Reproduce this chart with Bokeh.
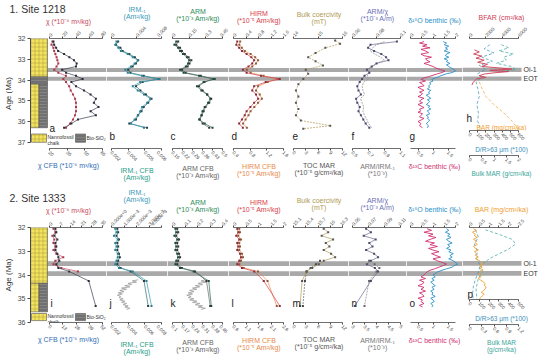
import math
from bokeh.plotting import figure
from bokeh.models import Range1d, LinearAxis, FixedTicker, BoxAnnotation, Label
from bokeh.layouts import row, column
from bokeh.embed import file_html
from bokeh.resources import INLINE

FONT = "Liberation Sans"
INK = "#4a4a4a"
BAND = "#a9a9a9"
YEL = "#f3e45f"
SIO = "#707070"

# ---------------- event bands (Ma) ----------------
oi1_band = [33.42, 33.62]
eot_band = [33.84, 34.04]

# ================= Site 1218 =================
age_ticks1 = [32, 33, 34, 35, 36, 37]
chalk1 = [32.0, 33.85]
sio1 = [33.85, 34.2]
mixed1 = [34.2, 36.3]

age1 = [32.15, 32.3, 32.45, 32.6, 32.75, 32.9, 33.05, 33.2, 33.35, 33.5, 33.65, 33.8, 33.95,
        34.1, 34.3, 34.5, 34.7, 34.9, 35.1, 35.3, 35.5, 35.7, 35.9, 36.1, 36.3]
chi1 = [6, 7, 10, 13, 22, 30, 37, 41, 40, 19, 25, 40, 50, 33, 40, 52, 62, 70, 67, 74, 62, 70, 43, 33, 22]
chi_cfb1 = [22.5, 21.7, 23.3, 24, 25, 26, 26.7, 27.5, 26, 24, 27.5, 34, 31.7, 34, 36.7, 38, 40, 41.7,
            42.5, 42.5, 42.5, 41.7, 40, 37.5, 34]
irm1 = [.0008, .0006, .0011, .0015, .0026, .0034, .0042, .0037, .0031, .0022, .0026, .0049, .0077,
        .0046, .0034, .0042, .0052, .0062, .0057, .0049, .0046, .0042, .0037, .0031, .0052]
irm_cfb1 = [.0026, .0024, .0028, .0030, .0036, .0041, .0044, .0042, .0039, .0035, .0037, .0049, .0062,
            .0048, .0042, .0046, .0051, .0056, .0053, .0049, .0047, .0044, .0042, .0036, .0052]
arm1 = [.034, .017, .05, .068, .094, .13, .15, .14, .12, .068, .10, .24, .38, .28, .22, .26, .31, .34,
        .32, .29, .27, .26, .24, .29, .36]
arm_cfb1 = [.190, .176, .203, .216, .236, .262, .282, .269, .256, .216, .242, .348, .434, .374, .335,
            .361, .394, .421, .407, .381, .368, .355, .341, .361, .407]
hirm1 = [0.12, 0.09, 0.18, 0.27, 0.42, 0.57, 0.66, 0.60, 0.48, 0.30, 0.42, 0.88, 1.48, 1.03, 0.66,
         0.60, 0.72, 0.79, 0.66, 0.54, 0.42, 0.36, 0.27, 0.18, 0.30]
hirm_cfb1 = [0.56, 0.54, 0.60, 0.67, 0.81, 0.92, 0.99, 0.94, 0.85, 0.72, 0.81, 1.12, 1.46, 1.22, 0.99,
             0.94, 1.03, 1.08, 0.99, 0.90, 0.81, 0.76, 0.69, 0.63, 0.72]
age_e1 = [32.1, 32.25, 32.45, 32.7, 32.9, 33.1, 33.3, 33.5, 33.7, 33.95, 34.2, 34.5, 34.8, 35.1,
          35.4, 35.7, 35.95, 36.2, 36.35]
coer1 = [15.7, 15.9, 15.3, 14.9, 14.6, 14.9, 15.2, 14.5, 14.6, 14.4, 14.2, 14.1, 14.2, 14.1, 14.2,
         14.1, 14.3, 15.5, 14.4]
armchi1 = [0.097, 0.075, 0.073, 0.078, 0.084, 0.088, 0.090, 0.080, 0.076, 0.072, 0.074, 0.070, 0.068,
           0.066, 0.064, 0.065, 0.067, 0.063, 0.064, 0.066, 0.065, 0.067, 0.069, 0.071, 0.074]
armirm1 = [0.9, 0.8, 0.75, 0.72, 0.78, 0.85, 0.9, 0.8, 0.76, 0.7, 0.72, 0.68, 0.7, 0.64, 0.62, 0.63,
           0.65, 0.6, 0.62, 0.64, 0.63, 0.65, 0.68, 0.7, 0.74]
age_iso1 = [32.15, 32.22, 32.3, 32.37, 32.45, 32.52, 32.6, 32.68, 32.75, 32.83, 32.9, 32.98, 33.05,
            33.12, 33.2, 33.27, 33.35, 33.42, 33.5, 33.57, 33.64, 33.7, 33.77, 33.84, 33.9, 33.97,
            34.05, 34.12, 34.2, 34.28, 34.35, 34.43, 34.5, 34.58, 34.65, 34.73, 34.8, 34.88, 34.95,
            35.03, 35.1, 35.18, 35.25, 35.33, 35.4, 35.48, 35.55, 35.63, 35.7, 35.78, 35.85, 35.93,
            36.0, 36.1, 36.2, 36.3]
d18o1 = [1.45, 1.6, 1.5, 1.7, 1.55, 1.65, 1.5, 1.75, 1.6, 1.55, 1.7, 1.5, 1.65, 1.6, 1.75, 1.6, 1.7,
         1.8, 1.95, 2.0, 1.85, 1.6, 1.4, 1.25,
         1.1, 0.95, 1.0, 0.85, 0.9, 0.8, 0.85, 0.75, 0.9, 0.8, 0.85, 0.7, 0.8, 0.9, 0.75, 0.85, 0.8,
         0.7, 0.85, 0.8, 0.9, 0.75, 0.8, 0.85, 0.7, 0.8, 0.75, 0.85, 0.8, 0.7, 0.8, 0.75]
d13c1 = [0.7, 0.55, 0.8, 0.65, 0.9, 0.6, 0.75, 0.85, 0.6, 0.7, 0.95, 0.75, 0.8, 0.9, 0.7, 0.85, 1.0,
         1.1, 1.25, 1.4, 1.3, 1.15, 1.0, 0.85,
         0.7, 0.6, 0.75, 0.55, 0.65, 0.7, 0.5, 0.6, 0.7, 0.55, 0.65, 0.6, 0.5, 0.7, 0.6, 0.55, 0.65,
         0.5, 0.6, 0.7, 0.55, 0.6, 0.5, 0.65, 0.6, 0.55, 0.7, 0.6, 0.5, 0.6, 0.55, 0.65]
bfar_age1 = [32.55, 32.65, 32.75, 32.85, 32.95, 33.05, 33.15, 33.25, 33.35, 33.42, 33.48, 33.54,
             33.6, 33.66, 33.72, 33.8, 33.88, 33.95, 34.05, 34.15, 34.25]
bfar1 = [600, 1200, 500, 1500, 800, 1800, 1000, 2200, 1500, 3500, 5200, 2500, 4800, 3000, 1800,
         1200, 2000, 900, 600, 400, 300]
dr_age1 = [32.3, 32.5, 32.7, 32.9, 33.1, 33.3, 33.5, 33.7, 33.9, 34.1, 34.4, 34.8, 35.2, 35.6, 36.0, 36.3]
dr1 = [250, 180, 300, 150, 280, 120, 200, 100, 150, 80, 100, 120, 90, 110, 100, 130]
mar_age1 = [32.3, 32.45, 32.6, 32.75, 32.9, 33.05, 33.2, 33.35, 33.5, 33.6]
mar1 = [1.3, 1.6, 1.2, 1.8, 1.4, 1.5, 1.1, 1.7, 1.9, 1.2]
bar_age1 = [34.1, 34.4, 34.8, 35.2, 35.6, 36.0, 36.4, 36.7, 37.0, 37.2]
bar1 = [120, 150, 200, 300, 420, 520, 600, 560, 450, 350]

# ================= Site 1333 =================
age_ticks2 = [32, 33, 34, 35, 36]
chalk2 = [32.0, 34.35]
mixed2 = [34.35, 35.55]

age2 = [32.05, 32.2, 32.35, 32.5, 32.65, 32.8, 32.95, 33.1, 33.25, 33.4, 33.55, 33.7, 33.85, 34.25, 35.3]
chi2 = [2.6, 3.9, 1.9, 3.2, 2.6, 3.9, 2.6, 4.5, 9.1, 3.9, 2.6, 7.8, 18.8]
chi_cfb2 = [5.8, 6.7, 4.8, 7.7, 5.8, 6.7, 5.8, 7.7, 8.7, 9.6, 6.7, 8.7, 19.3, 38.5, 45.3]
irm2 = [.0003, .0004, .0002, .0005, .0003, .0004, .0003, .0005, .0005, .0004, .0003, .0006, .0017, .0028, .0032]
irm_cfb2 = [.0027, .0028, .0026, .0029, .0027, .0028, .0027, .0029, .0030, .0028, .0027, .0031, .0043, .0059, .0064]
arm2 = [.023, .03, .015, .038, .023, .03, .023, .038, .045, .03, .023, .06, .17, .29, .31]
arm_cfb2 = [.133, .140, .126, .146, .133, .140, .133, .146, .153, .140, .133, .166, .258, .338, .364]
hirm2 = [.15, .19, .11, .23, .15, .19, .15, .26, .30, .23, .15, .34, .83, 1.21, 1.85]
hirm_cfb2 = [.83, .86, .79, .90, .83, .86, .83, .94, .98, .90, .83, 1.01, 1.58, 1.96, 2.33]
coer2 = [15.84, 15.95, 15.79, 16.07, 15.89, 15.98, 15.84, 16.02, 16.12, 15.84, 15.72, 15.56, 15.42, 15.31, 15.26]
toc_age2 = [33.4, 33.55, 33.7, 33.85, 34.25, 35.3]
toc2 = [6.5, 5.5, 4.2, 3.2, 2.8, 2.3]
armchi2 = [.067, .073, .064, .079, .071, .075, .067, .077, .082, .073, .068, .078, .082, .073, .053]
armirm_age2 = [33.4, 33.55, 33.7, 33.85, 34.25, 35.3]
armirm2 = [3.69, 3.92, 4.12, 4.0, 3.69, 3.5]
age_hr2 = [34.2, 34.25, 34.3, 34.35, 34.4, 34.45, 34.5, 34.55, 34.6, 34.65, 34.7, 34.75, 34.8, 34.85,
           34.9, 34.95, 35.0, 35.05, 35.1, 35.15, 35.2, 35.25, 35.3, 35.35, 35.4, 35.45]
irm_hr2 = [.0052, .0045, .0050, .0040, .0044, .0036, .0042, .0032, .0038, .0030, .0035, .0028, .0033,
           .0027, .0031, .0029, .0034, .0030, .0036, .0032, .0038, .0034, .0040, .0036, .0042, .0038]
arm_hr2 = [.33, .30, .34, .28, .31, .26, .29, .24, .27, .22, .25, .21, .24, .20, .23, .21, .25, .22,
           .27, .24, .29, .26, .31, .28, .33, .30]
age_iso2 = [32.05, 32.12, 32.2, 32.28, 32.35, 32.42, 32.5, 32.58, 32.65, 32.72, 32.8, 32.88, 32.95,
            33.02, 33.1, 33.18, 33.25, 33.32, 33.4, 33.47, 33.54, 33.6, 33.67, 33.74, 33.8, 33.87,
            33.94, 34.0, 34.08, 34.15, 34.22, 34.3, 34.38, 34.45, 34.52, 34.6, 34.68, 34.75, 34.82,
            34.9, 34.98, 35.05, 35.12, 35.2, 35.28, 35.35]
d18o2 = [1.6, 1.7, 1.55, 1.75, 1.65, 1.8, 1.6, 1.7, 1.85, 1.65, 1.75, 1.6, 1.8, 1.7, 1.9, 1.75, 1.85,
         1.7, 1.9, 2.0, 2.1, 1.95, 1.85, 1.6, 1.4, 1.2, 1.1,
         1.0, 1.1, 0.95, 1.05, 0.9, 1.0, 1.1, 0.95, 1.05, 0.9, 1.0, 0.95, 1.1, 0.9, 1.0, 1.05, 0.9, 1.0, 0.95]
d13c2 = [0.8, 0.95, 0.7, 1.0, 0.85, 1.1, 0.9, 0.75, 1.05, 0.9, 1.15, 0.85, 1.0, 1.2, 0.95, 1.1, 1.25,
         1.0, 1.15, 1.3, 1.45, 1.35, 1.2, 1.05, 0.9, 0.8, 0.75,
         0.7, 0.6, 0.75, 0.55, 0.7, 0.65, 0.5, 0.7, 0.6, 0.75, 0.55, 0.65, 0.7, 0.5, 0.65, 0.6, 0.7, 0.55, 0.65]
bar2 = [0.2, 0.35, 0.15, 0.3, 0.25, 0.4, 0.2, 0.35, 0.3, 0.4, 0.2, 0.3, 0.45, 0.25, 0.35, 0.3, 0.45,
        0.3, 0.5, 0.6, 0.7, 0.5, 0.65, 0.55, 0.7, 0.6, 0.5,
        0.5, 0.6, 0.45, 0.55, 0.7, 0.8, 0.75, 0.85, 0.8, 0.7, 0.6, 0.75, 0.65, 0.55, 0.5, 0.55, 0.45, 0.5, 0.4]
dr_age2 = [32.1, 32.4, 32.7, 33.0, 33.3, 33.6, 33.9, 34.2, 34.5, 34.8, 35.1]
dr2 = [60, 90, 50, 80, 70, 110, 90, 60, 40, 30, 40]
mar_age2 = [32.1, 32.3, 32.5, 32.7, 32.9, 33.1, 33.3, 33.5, 33.7, 33.9, 34.2, 34.6, 35.0, 35.2]
mar2 = [0.39, 0.74, 1.04, 1.13, 0.97, 0.74, 0.51, 0.35, 0.25, 0.30, 0.21, 0.16, 0.18, 0.16]

# ---------------- colours ----------------
C_CHI, C_CHICFB = "#c94a5e", "#2f6db5"
C_IRM, C_IRMCFB = "#3a9ab8", "#1f9e89"
C_ARM, C_ARMCFB = "#2e8b57", "#666666"
C_HIRM, C_HIRMCFB = "#d8404a", "#e8894a"
C_COER, C_TOC = "#b09a55", "#555555"
C_ARMCHI, C_ARMIRM = "#6b6fb5", "#777777"
C_D18O, C_D13C = "#2a90c8", "#d03070"
C_BFAR, C_BAR, C_DR, C_MAR = "#d04055", "#f0a030", "#3a8fb8", "#3aa59a"


def mk_range(lo, hi, L, R, W):
    k = (hi - lo) / (R - L)
    return Range1d(lo - L * k, hi + (W - R) * k)


def fmt_axis(ax, lo, hi, ticks, label, color, orient, lsize="7px"):
    ax.bounds = (lo, hi)
    ax.ticker = FixedTicker(ticks=ticks)
    ax.axis_label = label
    ax.axis_label_text_color = color
    ax.axis_label_text_font = FONT
    ax.axis_label_text_font_size = lsize
    ax.axis_label_text_font_style = "normal"
    ax.axis_label_text_line_height = 1.0
    ax.axis_label_standoff = 1
    ax.major_label_text_font = FONT
    ax.major_label_text_font_size = "4.8px"
    ax.major_label_text_color = INK
    ax.major_label_orientation = orient
    ax.major_label_standoff = 1
    ax.major_tick_out = 2
    ax.major_tick_in = 0
    ax.minor_tick_line_color = None
    ax.axis_line_color = INK
    ax.axis_line_width = 0.8
    ax.major_tick_line_color = INK


def panel(W, H, yr, L, R, top, bots, tb, bb, lb=0, rb=0, first=None, band_right=None, bsize="7px"):
    p = figure(frame_width=W, frame_height=H, x_range=mk_range(top[0], top[1], L, R, W), y_range=yr,
               x_axis_location="above", y_axis_location=("left" if first else None),
               output_backend="svg", toolbar_location=None,
               min_border_top=tb, min_border_bottom=bb, min_border_left=lb, min_border_right=rb)
    p.outline_line_color = None
    p.border_fill_color = None
    p.background_fill_color = None
    p.grid.visible = False
    fmt_axis(p.xaxis[0], top[0], top[1], top[2], top[3], top[4], math.pi / 4)
    extra = {"px": Range1d(0, W)}
    for i, b in enumerate(bots):
        extra["b%d" % i] = mk_range(b[0], b[1], L, R, W)
    p.extra_x_ranges = extra
    for i, b in enumerate(bots):
        ax = LinearAxis(x_range_name="b%d" % i)
        fmt_axis(ax, b[0], b[1], b[2], b[3], b[4], -math.pi / 4, lsize=bsize)
        p.add_layout(ax, "below")
    for band in (oi1_band, eot_band):
        kw = dict(top=band[0], bottom=band[1], fill_color=BAND, fill_alpha=1.0, line_color=None,
                  level="underlay")
        if band_right is not None:
            kw.update(right=band_right, x_range_name="px")
        p.add_layout(BoxAnnotation(**kw))
    if first:
        ya = p.yaxis[0]
        ya.bounds = (first[0][0], first[0][-1])
        ya.ticker = FixedTicker(ticks=first[0])
        ya.axis_label = "Age (Ma)"
        ya.axis_label_text_font = FONT
        ya.axis_label_text_font_size = "8px"
        ya.axis_label_text_font_style = "normal"
        ya.axis_label_text_color = "#333333"
        ya.axis_label_standoff = 2
        ya.major_label_text_font = FONT
        ya.major_label_text_font_size = "7px"
        ya.major_label_text_color = INK
        ya.major_label_standoff = 2
        ya.major_tick_out = 3
        ya.major_tick_in = 0
        ya.minor_tick_line_color = None
        ya.axis_line_color = INK
        ya.major_tick_line_color = INK
        p.title.text = first[1]
        p.title.text_font = FONT
        p.title.text_font_size = "10.5px"
        p.title.text_font_style = "normal"
        p.title.text_color = "#333333"
        p.title.align = "left"
        p.title.offset = -lb + 1
        p.title.standoff = 0
    return p


def trace(p, xs, ys, color, rng="default", dash="solid", lw=0.7, dot=None, size=2.0):
    p.line(xs, ys, line_color=color, line_width=lw, line_dash=dash, x_range_name=rng)
    if dot:
        p.scatter(xs, ys, marker="square", size=size, fill_color=dot, line_color=None, x_range_name=rng)


def letter(p, xpx, y, t):
    p.add_layout(Label(x=xpx, y=y, x_range_name="px", text=t, text_font=FONT, text_font_size="10px",
                       text_color="#222222", text_baseline="middle"))


def chalk_box(p, l, r, t, b):
    p.quad(left=l, right=r, top=t, bottom=b, fill_color=YEL, line_color="#555555",
           line_width=0.6, hatch_pattern="+", hatch_color="#a8953a", hatch_scale=4, hatch_weight=0.5,
           x_range_name="px")


def sio_box(p, l, r, t, b):
    p.quad(left=l, right=r, top=t, bottom=b, fill_color=SIO, line_color="#555555",
           line_width=0.6, hatch_pattern="-", hatch_color="#9a9a9a", hatch_scale=3,
           hatch_weight=0.5, x_range_name="px")


def litho(p, chalk, mixed, sio, leg_y):
    chalk_box(p, 0, 17, chalk[0], chalk[1])
    if sio:
        sio_box(p, 0, 17, sio[0], sio[1])
    chalk_box(p, 0, 8.5, mixed[0], mixed[1])
    sio_box(p, 8.5, 17, mixed[0], mixed[1])
    chalk_box(p, 1, 16, leg_y[0], leg_y[1])
    sio_box(p, 45, 55, leg_y[0], leg_y[1])
    p.add_layout(Label(x=17, y=leg_y[0], x_range_name="px", text="Nannofossil\nchalk", text_font=FONT,
                       text_font_size="5px", text_color="#333333", text_baseline="top",
                       text_line_height=1.0))
    p.add_layout(Label(x=56, y=(leg_y[0] + leg_y[1]) / 2, x_range_name="px", text="Bio-SiO₂",
                       text_font=FONT, text_font_size="5px", text_color="#333333",
                       text_baseline="middle"))


def event_labels(p, xpx):
    for t, band in (("Oi-1", oi1_band), ("EOT", eot_band)):
        p.add_layout(Label(x=xpx, y=(band[0] + band[1]) / 2, x_range_name="px", text=t, text_font=FONT,
                           text_font_size="7px", text_color="#333333", text_baseline="middle"))


H1, H2 = 110, 95
TB = 30
BB1, BB2 = 38, 44
LB = 22
WID = [76, 61, 61, 61, 59, 58, 56, 78]
LR = [(19, 72), (5, 55), (5, 55), (5, 55), (4, 53), (4, 52), (4, 49), (7, 56)]
BAND_R = 59
EV_X = 61

# ================= Row 1 =================
Y1_END = 37.3
yr1 = Range1d(Y1_END, 32.0)
ly1 = 36.72
r1 = []
p = panel(WID[0], H1, yr1, *LR[0], (0, 80, [0, 20, 40, 60, 80], "χ (*10⁻⁶ m³/kg)", C_CHI),
          [(20, 65, [20, 35, 50, 65], "χ CFB (*10⁻⁶ m³/kg)", C_CHICFB)], TB, BB1, lb=LB,
          first=(age_ticks1, "1. Site 1218"))
litho(p, chalk1, mixed1, sio1, (36.6, 37.0))
trace(p, chi_cfb1, age1, C_CHI, rng="b0", dot="#a83a4a")
trace(p, chi1, age1, "#3b4150", dot="#2b2b3a")
letter(p, 19, 36.35, "a")
r1.append(p)

p = panel(WID[1], H1, yr1, *LR[1], (0, 0.008, [0, 0.004, 0.008], "IRM₋₁\n(Am²/kg)", C_IRM),
          [(0.002, 0.0065, [0.002, 0.0035, 0.005, 0.0065], "IRM₋₁ CFB\n(Am²/kg)", C_IRMCFB)], TB, BB1)
trace(p, irm_cfb1, age1, "#2f6f6a", rng="b0", dot="#2b3b3a")
trace(p, irm1, age1, C_IRM, dot="#2a7f95")
letter(p, 3, ly1, "b")
r1.append(p)

p = panel(WID[2], H1, yr1, *LR[2], (0, 0.45, [0, 0.15, 0.30, 0.45], "ARM\n(*10⁻³ Am²/kg)", C_ARM),
          [(0.15, 0.50, [0.15, 0.22, 0.29, 0.36, 0.43, 0.50], "ARM CFB\n(*10⁻³ Am²/kg)", C_ARMCFB)],
          TB, BB1)
trace(p, arm_cfb1, age1, "#666666", rng="b0", dot="#333333")
trace(p, arm1, age1, "#2e6b50", dot="#1f4a38")
letter(p, 3, ly1, "c")
r1.append(p)

p = panel(WID[3], H1, yr1, *LR[3], (0, 1.6, [0, 0.4, 0.8, 1.2, 1.6], "HIRM\n(*10⁻⁵ Am²/kg)", C_HIRM),
          [(0.4, 1.6, [0.4, 0.8, 1.2, 1.6], "HIRM CFB\n(*10⁻⁵ Am²/kg)", C_HIRMCFB)], TB, BB1)
trace(p, hirm_cfb1, age1, C_HIRMCFB, rng="b0", dot="#8a5a3a")
trace(p, hirm1, age1, C_HIRM, dot="#8a2a3a")
letter(p, 3, ly1, "d")
r1.append(p)

p = panel(WID[4], H1, yr1, *LR[4], (14, 16, [14, 15, 16], "Bulk coercivity\n(mT)", C_COER),
          [(0, 12, [0, 3, 6, 9, 12], "TOC MAR\n(*10⁻⁵ g/cm²/ka)", C_TOC)], TB, BB1)
trace(p, coer1, age_e1, C_COER, dash="2 1", dot="#555555")
letter(p, 3, ly1, "e")
r1.append(p)

p = panel(WID[5], H1, yr1, *LR[5], (0.06, 0.10, [0.06, 0.08, 0.10], "ARM/χ\n(*10⁻³ A/m)", C_ARMCHI),
          [(0.5, 1.1, [0.5, 0.7, 0.9, 1.1], "ARM/IRM₋₁\n(*10⁻³)", C_ARMIRM)], TB, BB1)
trace(p, armirm1, age1, "#888888", rng="b0", dash="2 1")
trace(p, armchi1, age1, "#6a6a90", dot="#4a4a6a")
letter(p, 3, ly1, "f")
r1.append(p)

p = panel(WID[6], H1, yr1, *LR[6], (0, 2, [0, 0.5, 1, 1.5, 2], "δ¹⁸O benthic (‰)", C_D18O),
          [(0.25, 1.75, [0.5, 1.0, 1.5], "δ¹³C benthic (‰)", C_D13C)], TB, BB1)
trace(p, d13c1, age_iso1, C_D13C, rng="b0", lw=0.9)
trace(p, d18o1, age_iso1, C_D18O, lw=0.9)
letter(p, 3, ly1, "g")
r1.append(p)

# panel h: frame stops at 36.45 Ma, its two extra axes use the space below
H_END = 36.45
Hh = round(H1 * (H_END - 32.0) / (Y1_END - 32.0))
p = panel(WID[7], Hh, Range1d(H_END, 32.0), *LR[7],
          (0, 6000, [0, 2000, 4000, 6000], "BFAR (cm²/ka)", C_BFAR),
          [(0, 600, [0, 100, 200, 300, 400, 500, 600], "D/R>63 μm (*100)", C_DR),
           (0, 2, [0, 0.5, 1, 1.5, 2], "Bulk MAR (g/cm²/ka)", C_MAR)], TB, BB1 + (H1 - Hh),
          band_right=BAND_R, bsize="6.5px")
trace(p, mar1, mar_age1, C_MAR, rng="b1", dash="3 2")
trace(p, dr1, dr_age1, C_DR, rng="b0", dash="3 2")
trace(p, bar1, bar_age1, C_BAR, rng="b0", dash="3 2")
trace(p, bfar1, bfar_age1, C_BFAR, lw=0.9)
letter(p, 4, 35.85, "h")
p.add_layout(Label(x=14, y=36.3, x_range_name="px", text="BAR (mg/cm²/ka)", text_font=FONT,
                   text_font_size="6.5px", text_color=C_BAR, text_baseline="middle"))
event_labels(p, EV_X)
r1.append(p)

# ================= Row 2 =================
yr2 = Range1d(36.0, 32.0)
ly2 = 35.2
r2 = []
p = panel(WID[0], H2, yr2, *LR[0], (0, 35, [0, 7, 14, 21, 28, 35], "χ (*10⁻⁶ m³/kg)", C_CHI),
          [(0, 52, [0, 13, 26, 39, 52], "χ CFB (*10⁻⁶ m³/kg)", C_CHICFB)], TB, BB2, lb=LB,
          first=(age_ticks2, "2. Site 1333"))
litho(p, chalk2, mixed2, None, (35.62, 35.92))
trace(p, chi2, age2[:13], C_CHI, dot="#a83a4a")
trace(p, chi_cfb2, age2, "#3b4150", rng="b0", dot="#2b2b3a")
letter(p, 20, ly2, "i")
r2.append(p)

p = panel(WID[1], H2, yr2, *LR[1], (0, 0.004, [0, 0.001, 0.002, 0.003, 0.004], "IRM₋₁\n(Am²/kg)", C_IRM),
          [(0.002, 0.008, [0.002, 0.004, 0.006, 0.008], "IRM₋₁ CFB\n(Am²/kg)", C_IRMCFB)], TB, BB2)
trace(p, irm_hr2, age_hr2, "#999999", rng="b0", lw=0.8)
trace(p, irm_cfb2, age2, "#2f6f6a", rng="b0", dot="#2b3b3a")
trace(p, irm2, age2, C_IRM, dot="#2a7f95")
letter(p, 3, ly2, "j")
r2.append(p)

p = panel(WID[2], H2, yr2, *LR[2], (0, 0.4, [0, 0.1, 0.2, 0.3, 0.4], "ARM\n(*10⁻³ Am²/kg)", C_ARM),
          [(0.10, 0.45, [0.10, 0.17, 0.24, 0.31, 0.38, 0.45], "ARM CFB\n(*10⁻³ Am²/kg)", C_ARMCFB)],
          TB, BB2)
trace(p, arm_hr2, age_hr2, "#999999", rng="b0", lw=0.8)
trace(p, arm_cfb2, age2, "#666666", rng="b0", dot="#333333")
trace(p, arm2, age2, "#2e6b50", dot="#1f4a38")
letter(p, 3, ly2, "k")
r2.append(p)

p = panel(WID[3], H2, yr2, *LR[3], (0, 2, [0, 0.5, 1, 1.5, 2], "HIRM\n(*10⁻⁵ Am²/kg)", C_HIRM),
          [(0.6, 2.6, [0.6, 1.1, 1.6, 2.1, 2.6], "HIRM CFB\n(*10⁻⁵ Am²/kg)", C_HIRMCFB)], TB, BB2)
trace(p, hirm_cfb2, age2, C_HIRMCFB, rng="b0", dot="#8a5a3a")
trace(p, hirm2, age2, C_HIRM, dot="#8a2a3a")
letter(p, 3, ly2, "l")
r2.append(p)

p = panel(WID[4], H2, yr2, *LR[4], (15.1, 16.3, [15.1, 15.4, 15.7, 16.0, 16.3], "Bulk coercivity\n(mT)", C_COER),
          [(0, 12, [0, 3, 6, 9, 12], "TOC MAR\n(*10⁻⁵ g/cm²/ka)", C_TOC)], TB, BB2)
trace(p, toc2, toc_age2, "#666666", rng="b0", dash="2 1", dot="#444444")
trace(p, coer2, age2, C_COER, dot="#555555")
letter(p, 3, ly2, "m")
r2.append(p)

p = panel(WID[5], H2, yr2, *LR[5], (0.05, 0.11, [0.05, 0.07, 0.09, 0.11], "ARM/χ\n(*10⁻³ A/m)", C_ARMCHI),
          [(3.0, 5.0, [3.0, 3.5, 4.0, 4.5, 5.0], "ARM/IRM₋₁\n(*10⁻³)", C_ARMIRM)], TB, BB2)
trace(p, armirm2, armirm_age2, "#888888", rng="b0", dash="2 1", dot="#666666")
trace(p, armchi2, age2, "#6a6a90", dot="#4a4a6a")
letter(p, 3, ly2, "n")
r2.append(p)

p = panel(WID[6], H2, yr2, *LR[6], (0, 2, [0, 0.5, 1, 1.5, 2], "δ¹⁸O benthic (‰)", C_D18O),
          [(0.25, 1.75, [0.5, 1.0, 1.5], "δ¹³C benthic (‰)", C_D13C)], TB, BB2)
trace(p, d13c2, age_iso2, C_D13C, rng="b0", lw=0.9)
trace(p, d18o2, age_iso2, C_D18O, lw=0.9)
letter(p, 3, ly2, "o")
r2.append(p)

# panel p: frame stops at 35.05 Ma, the D/R axis sits in the space below it
P_END = 35.05
Hp = round(H2 * (P_END - 32.0) / 4.0)
p = panel(WID[7], Hp, Range1d(P_END, 32.0), *LR[7],
          (0, 2.5, [0, 0.5, 1, 1.5, 2, 2.5], "BAR (mg/cm²/ka)", C_BAR),
          [(0, 500, [0, 100, 200, 300, 400, 500], "D/R>63 μm (*100)", C_DR),
           (0, 1.2, [0, 0.3, 0.6, 0.9, 1.2], "Bulk MAR\n(g/cm²/ka)", C_MAR)], TB, BB2 + (H2 - Hp),
          band_right=BAND_R, bsize="6.5px")
trace(p, mar2, mar_age2, C_MAR, rng="b1", dash="3 2")
trace(p, dr2, dr_age2, C_DR, rng="b0", dash="3 2")
trace(p, bar2, age_iso2, C_BAR, lw=0.9)
letter(p, 5, 34.85, "p")
event_labels(p, EV_X)
r2.append(p)

layout = column(row(r1, spacing=0), row(r2, spacing=0), spacing=0)
open("out.html", "w").write(file_html(layout, INLINE))
